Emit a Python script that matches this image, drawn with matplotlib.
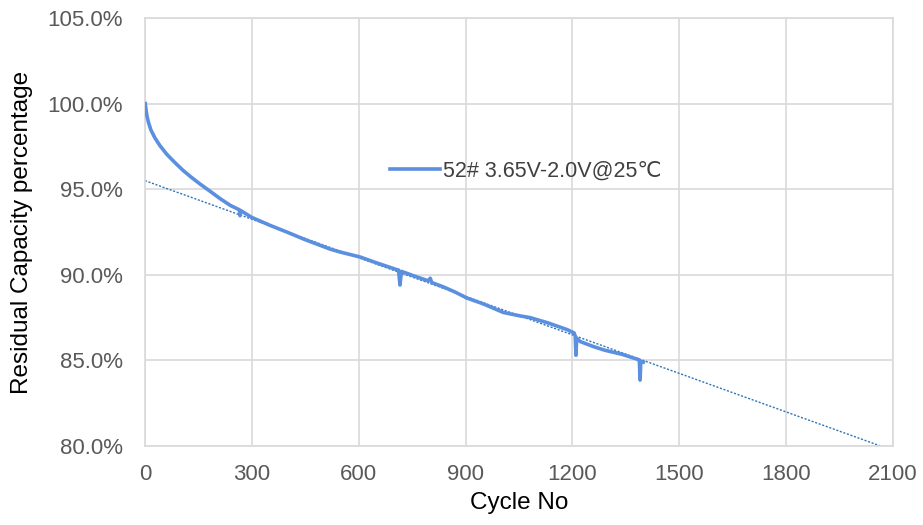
import matplotlib
matplotlib.use("Agg")
import matplotlib.pyplot as plt
from matplotlib.ticker import FuncFormatter

plt.rcParams['font.family'] = ['Liberation Sans', 'DejaVu Sans']

# cycle test data (dips are the short spikes)
cycles = [1, 3, 6, 10, 17, 28, 42, 61, 82, 107, 130, 155, 185, 211, 240, 265, 267, 269,
          300, 350, 398, 450, 520, 548, 604, 650, 707, 712, 716, 720, 760, 795, 801,
          805, 837, 870, 904, 950, 1006, 1053, 1081, 1130, 1185, 1205, 1208, 1210, 1212,
          1222, 1260, 1290, 1300, 1340, 1385, 1388, 1390, 1392, 1399]
capacity = [100.0, 99.65, 99.25, 98.9, 98.45, 98.0, 97.55, 97.05, 96.6, 96.1, 95.7, 95.3,
            94.85, 94.45, 94.05, 93.8, 93.45, 93.75, 93.35, 92.9, 92.5, 92.05, 91.5, 91.33,
            91.04, 90.7, 90.3, 90.28, 89.4, 90.2, 89.9, 89.65, 89.8, 89.55, 89.3, 89.0,
            88.64, 88.3, 87.8, 87.6, 87.5, 87.2, 86.8, 86.6, 86.4, 85.3, 86.3, 86.1, 85.8,
            85.6, 85.55, 85.35, 85.05, 85.0, 83.85, 84.95, 84.9]

# linear trend line end points
trend_x = [0, 2065]
trend_y = [95.5, 80.0]

xticks = [0, 300, 600, 900, 1200, 1500, 1800, 2100]
yticks = [80, 85, 90, 95, 100, 105]

fig = plt.figure(figsize=(9.23, 5.25), dpi=100)
ax = fig.add_axes([0.157, 0.1505, 0.8105, 0.8152])

ax.plot(cycles, capacity, color='#5B8FE0', lw=2.6, label='52# 3.65V-2.0V@25℃', zorder=3)
ax.plot(trend_x, trend_y, color='#2E75B6', lw=1.0, ls=(0, (1.5, 1.2)), zorder=2)

ax.set_xlim(0, 2100)
ax.set_ylim(80, 105)
ax.set_xticks(xticks)
ax.set_yticks(yticks)
ax.yaxis.set_major_formatter(FuncFormatter(lambda v, p: '%.1f%%' % v))
ax.tick_params(length=0, labelsize=16, labelcolor='#595959')
ax.tick_params(axis='x', pad=13)
ax.tick_params(axis='y', pad=16)
ax.grid(True, color='#d9d9d9', lw=1.2)
ax.set_axisbelow(True)
for s in ax.spines.values():
    s.set_color('#d9d9d9')
    s.set_linewidth(1.2)

ax.set_xlabel('Cycle No', fontsize=17.5, labelpad=5)
ax.set_ylabel('Residual Capacity percentage', fontsize=17.5, labelpad=10)

ax.legend(loc='center left', bbox_to_anchor=(0.302, 0.643), frameon=False,
          fontsize=15.5, handlelength=2.3, handletextpad=0.15, labelcolor='#404040')

fig.savefig('out.png', dpi=100)
